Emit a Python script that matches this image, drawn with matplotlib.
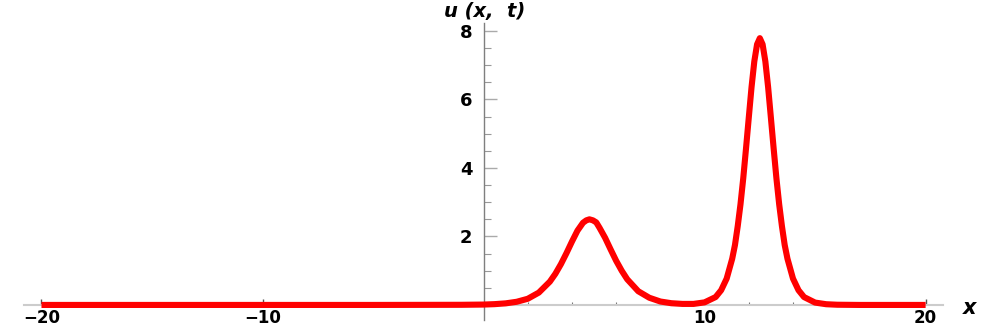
"""
Two-soliton profile u(x, t), Mathematica-style axes through the origin.
"""

import matplotlib
matplotlib.use('Agg')
import matplotlib.pyplot as plt
from matplotlib.ticker import FixedLocator, MultipleLocator

# Curve samples
x_vals = [-20.0, -10.0, -5.0, -1.0, 0.0, 0.5, 1.0, 1.5, 2.0, 2.5,
          3.0, 3.25, 3.5, 3.75, 4.0, 4.25, 4.5, 4.65, 4.79, 4.95,
          5.1, 5.25, 5.5, 5.75, 6.0, 6.25, 6.5, 7.0, 7.5, 8.0,
          8.5, 9.0, 9.5, 10.0, 10.5, 10.75, 11.0, 11.25, 11.375, 11.5,
          11.625, 11.75, 11.875, 12.0, 12.125, 12.25, 12.375, 12.5, 12.625, 12.75,
          12.875, 13.0, 13.125, 13.25, 13.375, 13.5, 13.625, 13.75, 14.0, 14.25,
          14.5, 15.0, 15.5, 16.0, 17.0, 20.0]
u_vals = [0.0, 0.0, 0.0, 0.004, 0.011, 0.023, 0.046, 0.092, 0.18, 0.36,
          0.68, 0.91, 1.19, 1.51, 1.85, 2.17, 2.40, 2.47, 2.50, 2.47,
          2.41, 2.25, 1.96, 1.62, 1.29, 1.00, 0.75, 0.40, 0.21, 0.10,
          0.05, 0.03, 0.03, 0.075, 0.23, 0.43, 0.77, 1.35, 1.75, 2.30,
          2.94, 3.70, 4.57, 5.47, 6.36, 7.11, 7.61, 7.79, 7.61, 7.11,
          6.36, 5.47, 4.57, 3.70, 2.94, 2.30, 1.75, 1.35, 0.77, 0.43,
          0.23, 0.069, 0.021, 0.006, 0.0, 0.0]

x_major = [-20, -10, 10, 20]
y_major = [2, 4, 6, 8]

fig = plt.figure(figsize=(9.97, 3.27), dpi=100)
ax = fig.add_axes([0.0241, 0.0214, 0.9218, 0.909])

ax.plot(x_vals, u_vals, color='#ff0000', linewidth=4.4,
        solid_capstyle='butt', solid_joinstyle='round', zorder=3)

ax.set_xlim(-20.79, 20.79)
ax.set_ylim(-0.44, 8.24)

# Axes cross at the origin
ax.spines['left'].set_position(('data', 0))
ax.spines['bottom'].set_position(('data', 0))
ax.spines['top'].set_visible(False)
ax.spines['right'].set_visible(False)
ax.spines['bottom'].set_color('#cccccc')
ax.spines['bottom'].set_linewidth(1.5)
ax.spines['left'].set_color('#7f7f7f')
ax.spines['left'].set_linewidth(1.0)

ax.xaxis.set_major_locator(FixedLocator(x_major))
ax.xaxis.set_minor_locator(MultipleLocator(2))
ax.yaxis.set_major_locator(FixedLocator(y_major))
ax.yaxis.set_minor_locator(MultipleLocator(0.5))

ax.tick_params(axis='x', which='major', direction='in', length=4, width=1,
               color='#555555', pad=3, labelsize=12)
ax.tick_params(axis='x', which='minor', direction='in', length=2.5, width=0.8,
               color='#777777')
ax.tick_params(axis='y', which='major', direction='in', length=9, width=1,
               color='#aaaaaa', pad=8, labelsize=13)
ax.tick_params(axis='y', which='minor', direction='in', length=5, width=0.8,
               color='#999999')
for lbl in ax.get_xticklabels() + ax.get_yticklabels():
    lbl.set_fontweight('bold')

# Axis labels at the axis ends
fig.text(0.486, 0.995, 'u (x,  t)', ha='center', va='top', fontsize=14,
         fontweight='bold', fontstyle='italic')
ax.annotate('x', xy=(20.79, 0), xytext=(14, -2), textcoords='offset points',
            ha='left', va='center', fontsize=15, fontweight='bold',
            fontstyle='italic', annotation_clip=False)

fig.savefig('out.png', dpi=100)
plt.close(fig)
